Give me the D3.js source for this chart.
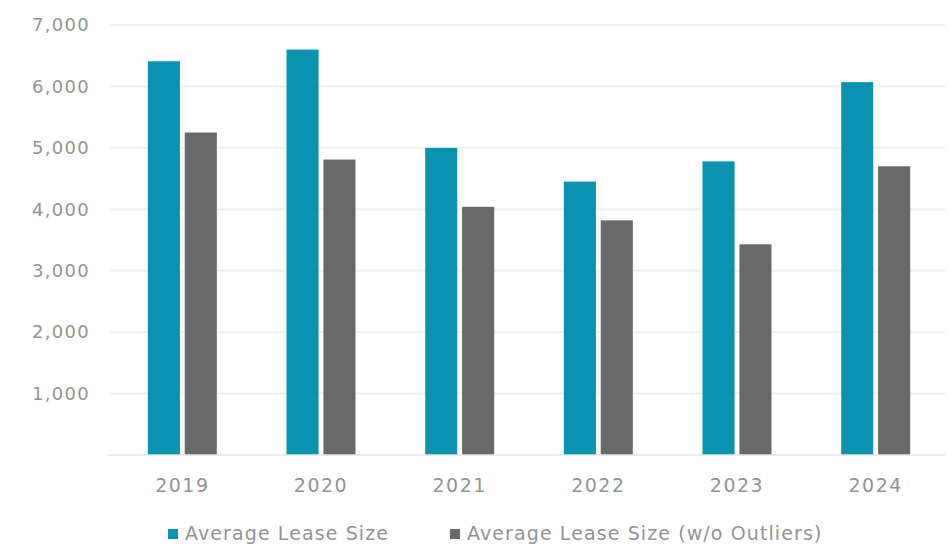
<!DOCTYPE html>
<html>
<head>
<meta charset="utf-8">
<script src="https://cdn.jsdelivr.net/npm/d3@7/dist/d3.min.js"></script>
<style>
  html, body { margin: 0; padding: 0; background: #fff; }
  svg { display: block; }
  text { font-family: "DejaVu Sans", sans-serif; fill: #939393; }
</style>
</head>
<body>
<svg id="chart" width="950" height="546"></svg>
<script>
// Average lease size by year, with and without outliers
const years = ["2019", "2020", "2021", "2022", "2023", "2024"];
const avgLeaseSize = [6410, 6600, 5000, 4450, 4780, 6070];
const avgLeaseSizeNoOutliers = [5250, 4810, 4040, 3820, 3430, 4700];
const seriesNames = ["Average Lease Size", "Average Lease Size (w/o Outliers)"];
const seriesColors = ["#0a93b1", "#696969"];
const yTicks = [1000, 2000, 3000, 4000, 5000, 6000, 7000];

const svg = d3.select("#chart");
const margin = { left: 113, right: 5, top: 25, bottom: 91 };
const width = 950, height = 546;

const x = d3.scaleBand().domain(years).range([margin.left, width - margin.right]).padding(0);
const y = d3.scaleLinear().domain([0, 7000]).range([height - margin.bottom, margin.top]);

const barW = 30, gap = 9;
const sub = d3.scaleBand().domain([0, 1]).range([-(barW + gap / 2), barW + gap / 2]).paddingInner(gap / (2 * barW + gap));

// gridlines
svg.append("g")
  .selectAll("line")
  .data(yTicks)
  .join("line")
  .attr("x1", 110).attr("x2", 945)
  .attr("y1", d => y(d)).attr("y2", d => y(d))
  .attr("stroke", "#f0f0f0").attr("stroke-width", 2);

// y axis labels
const yAxis = d3.axisLeft(y).tickValues(yTicks).tickSize(0).tickPadding(0)
  .tickFormat(d3.format(","));
svg.append("g")
  .attr("transform", "translate(90,0)")
  .call(yAxis)
  .call(g => g.select(".domain").remove())
  .selectAll("text")
  .attr("font-size", 18)
  .attr("letter-spacing", 1.3)
  .attr("font-family", "DejaVu Sans, sans-serif")
  .attr("fill", "#939393");

// bars
const series = [avgLeaseSize, avgLeaseSizeNoOutliers];
series.forEach((vals, si) => {
  svg.append("g")
    .selectAll("rect")
    .data(vals.map((v, i) => ({ year: years[i], v })))
    .join("rect")
    .attr("x", d => x(d.year) + x.bandwidth() / 2 + sub(si))
    .attr("width", sub.bandwidth())
    .attr("y", d => y(d.v))
    .attr("height", d => y(0) - y(d.v))
    .attr("fill", seriesColors[si]);
});

// baseline
svg.append("line")
  .attr("x1", 108).attr("x2", 945)
  .attr("y1", y(0)).attr("y2", y(0))
  .attr("stroke", "#e4e4e4").attr("stroke-width", 1.5);

// x axis labels
const xAxis = d3.axisBottom(x).tickSize(0).tickPadding(0);
svg.append("g")
  .attr("transform", `translate(0,${y(0) + 37})`)
  .call(xAxis)
  .call(g => g.select(".domain").remove())
  .selectAll("text")
  .attr("dy", 0)
  .attr("font-size", 19)
  .attr("letter-spacing", 1.5)
  .attr("font-family", "DejaVu Sans, sans-serif")
  .attr("fill", "#939393");

// legend
const legendItems = [
  { name: seriesNames[0], color: seriesColors[0], x: 168 },
  { name: seriesNames[1], color: seriesColors[1], x: 450 }
];
const lg = svg.append("g");
legendItems.forEach(it => {
  lg.append("rect")
    .attr("x", it.x).attr("y", 529)
    .attr("width", 10).attr("height", 10)
    .attr("fill", it.color);
  lg.append("text")
    .attr("x", it.x + 17).attr("y", 540)
    .attr("font-size", 19)
    .attr("letter-spacing", 1.1)
    .text(it.name);
});
</script>
</body>
</html>
